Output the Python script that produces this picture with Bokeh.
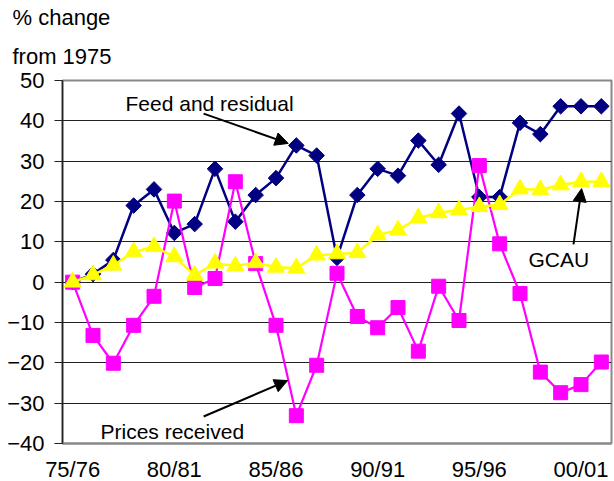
import math
from bokeh.plotting import figure
from bokeh.models import Arrow, NormalHead, Label, FixedTicker, Title
from bokeh.embed import file_html
from bokeh.resources import INLINE

# ---- data ----
seasons = ["75/76", "76/77", "77/78", "78/79", "79/80", "80/81", "81/82", "82/83",
           "83/84", "84/85", "85/86", "86/87", "87/88", "88/89", "89/90", "90/91",
           "91/92", "92/93", "93/94", "94/95", "95/96", "96/97", "97/98", "98/99",
           "99/00", "00/01", "01/02"]
feed_residual = [0, 2, 5.5, 19, 23, 12.2, 14.4, 28.1, 15.0, 21.6, 25.8, 33.9, 31.4, 6,
                 21.6, 28.1, 26.4, 35.1, 29.1, 41.8, 21.1, 21.1, 39.5, 36.7, 43.6, 43.6, 43.6]
prices_received = [0, -13.2, -20.1, -10.7, -3.5, 20.1, -1.3, 0.9, 24.9, 4.6, -10.7, -33.1,
                   -20.6, 2.2, -8.5, -11.3, -6.3, -17.1, -1.0, -9.5, 28.9, 9.5, -2.8, -22.3,
                   -27.4, -25.4, -19.8]
gcau = [0, 1.8, 4.2, 7.5, 8.8, 6.3, 1.7, 4.7, 4.0, 4.8, 3.7, 3.5, 6.7, 7.0, 7.3, 11.7,
        12.9, 15.9, 17.2, 17.9, 18.7, 19.2, 23.1, 22.9, 24.1, 24.9, 24.9]
tick_labels = ["75/76", "80/81", "85/86", "90/91", "95/96", "00/01"]
y_ticks = [-40, -30, -20, -10, 0, 10, 20, 30, 40, 50]

x = list(range(len(seasons)))
tick_pos = [seasons.index(t) for t in tick_labels]

FONT = "Liberation Sans"

p = figure(frame_width=549, frame_height=363,
           min_border_left=62, min_border_right=3, min_border_top=80, min_border_bottom=38,
           x_range=(-0.5, len(seasons) - 0.5), y_range=(-40, 50),
           output_backend="svg", toolbar_location=None,
           background_fill_color="white", border_fill_color="white")

# title lines (y-axis caption above the plot)
p.title.text = "% change"
p.title.align = "left"
p.title.offset = -50
p.title.text_font = FONT
p.title.text_font_size = "22px"
p.title.text_font_style = "normal"
p.title.text_color = "black"
p.title.standoff = 0
p.add_layout(Title(text="from 1975", align="left", offset=-50, text_font=FONT,
                   text_font_size="22px", text_font_style="normal", text_color="black",
                   standoff=24), "above")

p.outline_line_color = "#888888"
p.outline_line_width = 2

p.xgrid.grid_line_color = None
p.ygrid.grid_line_color = "#222222"
p.ygrid.grid_line_width = 1
p.ygrid.ticker = FixedTicker(ticks=y_ticks)

p.yaxis.ticker = FixedTicker(ticks=y_ticks)
p.yaxis.axis_line_color = "#222222"
p.yaxis.axis_line_width = 1.5
p.yaxis.major_tick_line_color = "#222222"
p.yaxis.major_tick_out = 8
p.yaxis.major_tick_in = 0
p.yaxis.minor_tick_line_color = None
p.yaxis.major_label_standoff = 10
p.yaxis.major_label_text_font = FONT
p.yaxis.major_label_text_font_size = "22px"
p.yaxis.major_label_text_color = "black"

p.xaxis.ticker = FixedTicker(ticks=tick_pos)
p.xaxis.major_label_overrides = {pos: lab for pos, lab in zip(tick_pos, tick_labels)}
p.xaxis.axis_line_color = "#888888"
p.xaxis.axis_line_width = 2
p.xaxis.major_tick_line_color = None
p.xaxis.minor_tick_line_color = None
p.xaxis.major_tick_out = 0
p.xaxis.major_tick_in = 0
p.xaxis.major_label_standoff = 13
p.xaxis.major_label_text_font = FONT
p.xaxis.major_label_text_font_size = "22px"
p.xaxis.major_label_text_color = "black"

# series
navy = "#000080"
mag = "#FF00FF"
yel = "#FFFF00"

p.line(x, feed_residual, line_color=navy, line_width=2.5)
p.scatter(x, feed_residual, marker="square", angle=math.pi / 4, size=11,
          fill_color=navy, line_color=navy)

p.line(x, prices_received, line_color=mag, line_width=2.2)
p.scatter(x, prices_received, marker="square", size=14, fill_color=mag, line_color=mag)

p.line(x, gcau, line_color=yel, line_width=2.5)
p.scatter(x, gcau, marker="triangle", size=17, fill_color=yel, line_color=yel)

# annotations
def lab(txt, xx, yy, size="21px"):
    p.add_layout(Label(x=xx, y=yy, text=txt, text_font=FONT, text_font_size=size,
                       text_color="black", text_baseline="alphabetic", text_align="left"))

lab("Feed and residual", 2.6, 44.3)
lab("Prices received", 1.37, -37.0)
lab("GCAU", 22.42, 5.6)

def arrow(x0, y0, x1, y1):
    p.add_layout(Arrow(x_start=x0, y_start=y0, x_end=x1, y_end=y1,
                       line_color="black", line_width=2,
                       end=NormalHead(size=13, fill_color="black", line_color="black")))

arrow(6.44, 41.8, 10.6, 34.4)
arrow(6.44, -33.3, 10.57, -24.4)
arrow(24.63, 9.35, 25.03, 23.2)

open("out.html", "w").write(file_html(p, INLINE))
